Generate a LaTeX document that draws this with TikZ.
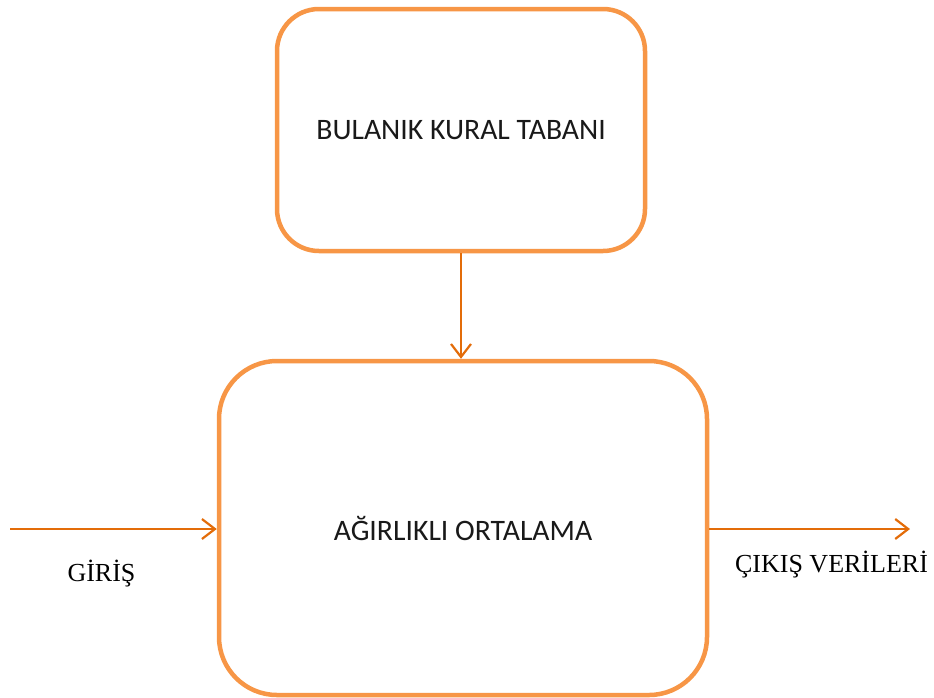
\documentclass[tikz,border=0pt]{standalone}
\usepackage{fontspec}
\setmainfont{Liberation Serif}
\newfontfamily\boxfont{Carlito}
\usetikzlibrary{arrows.meta}
\definecolor{boxorange}{HTML}{F79646}
\definecolor{arroworange}{HTML}{E36C09}
\begin{document}
\begin{tikzpicture}[x=1pt,y=-1pt,
  block/.style={draw=boxorange, line width=4.5pt, rounded corners=#1, fill=white,
    font=\boxfont\fontsize{29.7}{35}\selectfont, text=black!90},
  flow/.style={draw=arroworange, line width=2.2pt,
    -{Straight Barb[length=13pt,width=20pt,line width=2.2pt]}},
  label/.style={font=\fontsize{26}{30}\selectfont, inner sep=0pt, anchor=base}]
\useasboundingbox (0,0) rectangle (934,697);

% processing blocks
\node[block=42pt, minimum width=368pt, minimum height=242pt] (rules) at (461,130) {BULANIK KURAL TABANI};
\node[block=58pt, minimum width=488pt, minimum height=334pt] (avg) at (463,528) {AĞIRLIKLI ORTALAMA};

% input / output ends
\coordinate (inp) at (10,529);
\coordinate (outp) at (910,529);

% connectors
\draw[flow] (rules.south) -- (rules.south |- avg.north);
\draw[flow] (inp) -- (inp -| avg.west);
\draw[flow] (outp -| avg.east) -- (outp);

% side labels
\node[label] (inlabel) at (101.5,581) {GİRİŞ};
\node[label] (outlabel) at (831.5,572) {ÇIKIŞ VERİLERİ};
\end{tikzpicture}
\end{document}
